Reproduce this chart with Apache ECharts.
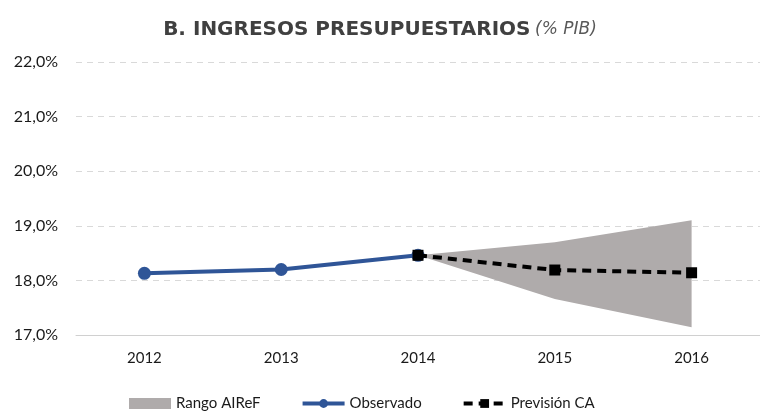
<!DOCTYPE html>
<html><head><meta charset="utf-8">
<script src="https://cdn.jsdelivr.net/npm/echarts@6/dist/echarts.min.js"></script>
<style>html,body{margin:0;padding:0;background:#fff}#c{width:760px;height:416px}</style>
</head><body><div id="c"></div>
<script>
const years = ['2012','2013','2014','2015','2016'];
const observado = [18.13, 18.20, 18.46, null, null];
const prevision = [null, null, 18.46, 18.19, 18.14];
const rangoLow = [null, null, 18.46, 17.66, 17.14];
const rangoHigh = [null, null, 18.46, 18.70, 19.10];
const rangoDiff = rangoHigh.map((h, i) => h == null ? null : +(h - rangoLow[i]).toFixed(2));

const chart = echarts.init(document.getElementById('c'));
const font = 'Lato, "Open Sans", sans-serif';
chart.setOption({
  animation: false,
  textStyle: { fontFamily: font },
  title: {
    text: '{b|B. INGRESOS PRESUPUESTARIOS} {i|(% PIB)}',
    left: 'center', top: 15,
    textStyle: { fontWeight: 'normal', rich: {
      b: { fontFamily: '"DejaVu Sans", sans-serif', fontWeight: 'bold', fontSize: 20, color: '#404040' },
      i: { fontFamily: '"DejaVu Sans", sans-serif', fontStyle: 'italic', fontWeight: 'normal', fontSize: 17, color: '#595959' }
    } }
  },
  grid: { left: 76, right: -3, top: 62, bottom: 81, containLabel: false },
  xAxis: {
    type: 'category', data: years, boundaryGap: true,
    axisLine: { lineStyle: { color: '#d0d0d0', width: 1 } },
    axisTick: { show: false },
    axisLabel: { color: '#1a1a1a', fontSize: 15, margin: 16, fontFamily: font }
  },
  yAxis: {
    type: 'value', min: 17, max: 22, interval: 1,
    axisLine: { show: false }, axisTick: { show: false },
    axisLabel: { color: '#1a1a1a', fontSize: 16, margin: 18, fontFamily: font,
      formatter: v => v.toFixed(1).replace('.', ',') + '%' },
    splitLine: { lineStyle: { color: '#d9d9d9', type: [6, 5], width: 1 } }
  },
  legend: {
    bottom: 0, left: 124, itemGap: 40, itemWidth: 42, itemHeight: 11,
    textStyle: { fontSize: 15, color: '#1a1a1a', fontFamily: font },
    data: [
      { name: 'Rango AIReF', icon: 'rect', itemStyle: { color: '#afabab' } },
      { name: 'Observado', lineStyle: { width: 4 } },
      { name: 'Previsión CA', lineStyle: { width: 4 } }
    ]
  },
  series: [
    { name: 'base', type: 'line', stack: 'r', data: rangoLow, symbol: 'none',
      lineStyle: { opacity: 0 }, areaStyle: { opacity: 0 }, silent: true, z: 1 },
    { name: 'Rango AIReF', type: 'line', stack: 'r', data: rangoDiff, symbol: 'none',
      lineStyle: { opacity: 0 }, itemStyle: { color: '#afabab' },
      areaStyle: { color: '#afabab', opacity: 1 }, z: 1 },
    { name: 'Observado', type: 'line', data: observado, symbol: 'circle', symbolSize: 13,
      itemStyle: { color: '#2f5597' }, lineStyle: { color: '#2f5597', width: 4 }, z: 3 },
    { name: 'Previsión CA', type: 'line', data: prevision, symbol: 'rect', symbolSize: 11,
      itemStyle: { color: '#000' }, lineStyle: { color: '#000', width: 4, type: [9, 6] }, z: 4 }
  ]
});
</script></body></html>
